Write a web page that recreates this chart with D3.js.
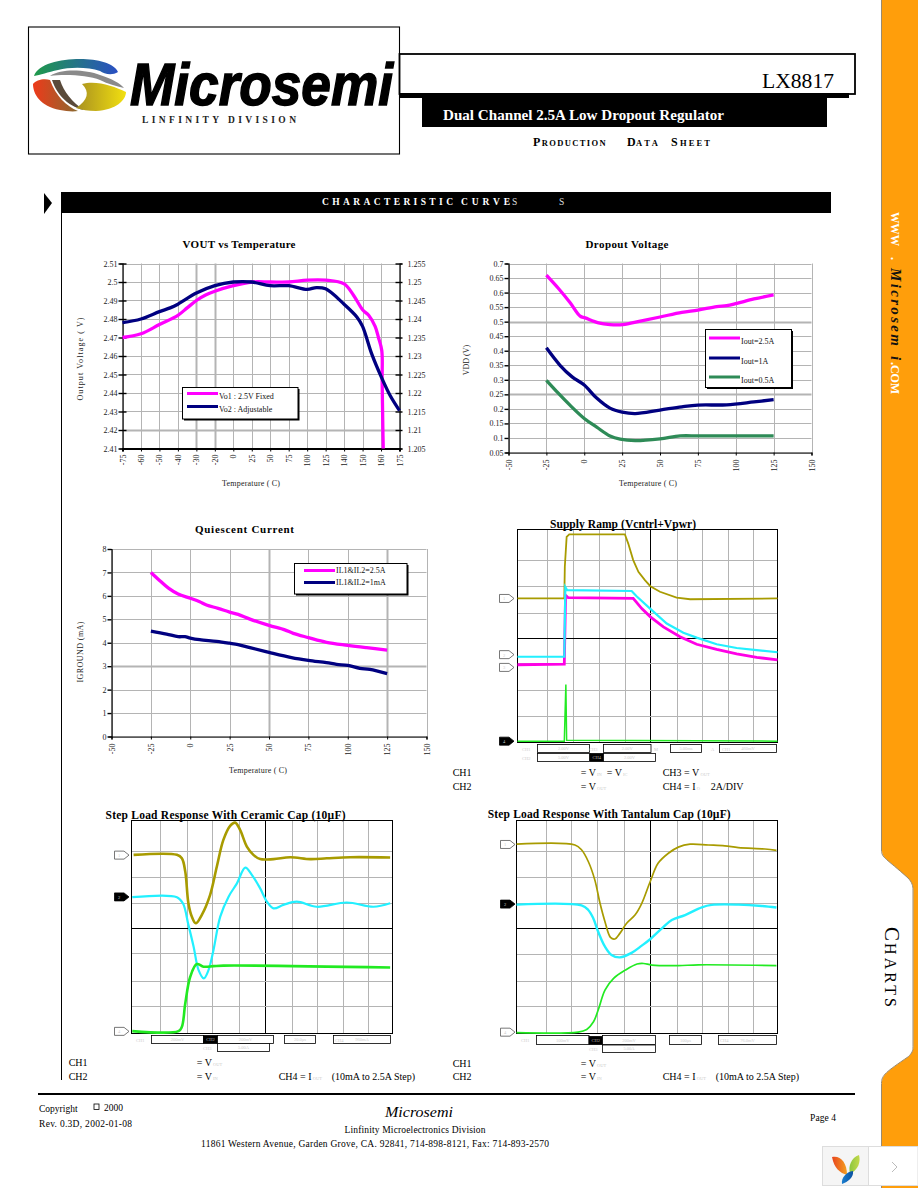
<!DOCTYPE html>
<html><head><meta charset="utf-8">
<script src="https://cdn.jsdelivr.net/npm/d3@7/dist/d3.min.js"></script>
<style>html,body{margin:0;padding:0;background:#fff}svg{display:block}text{font-family:"Liberation Serif",serif}</style>
</head><body><svg id="page" width="918" height="1188"></svg>
<script>
// ---------- chart values ----------
const vtCategories=["-75","-60","-50","-40","-30","-20","0","25","50","75","100","125","140","150","160","175"];
const vtLeftTicks=[2.41,2.42,2.43,2.44,2.45,2.46,2.47,2.48,2.49,2.5,2.51];
const vtRightTicks=[1.205,1.21,1.215,1.22,1.225,1.23,1.235,1.24,1.245,1.25,1.255];
const vtFixedPos=[0,1,2,3,3.5,4,4.5,5,6,7,8,9,10,11,12,12.5,13,13.33,13.68,13.86,14.04,14.06,14.1,14.12];
const vtFixedVal=[2.47,2.472,2.477,2.482,2.486,2.49,2.493,2.495,2.498,2.5,2.5,2.5,2.501,2.501,2.499,2.493,2.485,2.482,2.476,2.47,2.463,2.447,2.42,2.41];
const vtAdjPos=[0,1,2,2.58,3,4,5,6,7,8,9,10,10.5,11,12,12.7,13,13.5,14,14.5,15];
const vtAdjVal=[2.478,2.48,2.484,2.486,2.488,2.494,2.498,2.5,2.5,2.498,2.498,2.496,2.497,2.4963,2.488,2.481,2.476,2.461,2.449,2.4385,2.4305];

const tempTicks=[-50,-25,0,25,50,75,100,125,150];
const dropTicks=[0.05,0.1,0.15,0.2,0.25,0.3,0.35,0.4,0.45,0.5,0.55,0.6,0.65,0.7];
const drop25T=[-25,-17,-9.3,-2.7,0.6,9.4,17,25.5,37,50,64.4,75,87.5,94,100.7,112,125];
const drop25V=[0.66,0.614,0.565,0.519,0.513,0.496,0.49,0.49,0.502,0.516,0.532,0.54,0.552,0.555,0.563,0.578,0.592];
const drop1T=[-25,-16,-8,0,8,17,25,33.6,50,64.4,75,94,112,125];
const drop1V=[0.41,0.35,0.31,0.282,0.238,0.2025,0.189,0.184,0.196,0.207,0.213,0.214,0.224,0.232];
const drop05T=[-25,-17,-9.3,0,8,17,23.7,33.6,50,63.3,75,94,125];
const drop05V=[0.298,0.253,0.212,0.167,0.138,0.107,0.096,0.091,0.097,0.107,0.107,0.107,0.107];

const quiTicks=[0,1,2,3,4,5,6,7,8];
const qui25T=[-25,-19.3,-13.6,-7.7,0,6,10.3,17.7,25,30.4,37.9,50,60,65.4,75,86.5,100,112,125];
const qui25V=[7,6.65,6.32,6.08,5.9,5.75,5.61,5.47,5.31,5.21,5.01,4.74,4.55,4.4,4.22,4.02,3.89,3.79,3.69];
const qui1T=[-25,-15,-7.7,-3.4,0,6,16.7,25,30.4,37.9,50,64.3,75,86.5,92.9,100,107.7,114,125];
const qui1V=[4.5,4.37,4.26,4.26,4.2,4.13,4.06,3.98,3.92,3.79,3.59,3.37,3.25,3.15,3.08,3.03,2.91,2.86,2.68];

// oscilloscope traces: x and y in graticule divisions
const rampGridX=[1.12,2.12,3.12,4.12,5.11,6.12,7.1,8.1,9.07];
const rampGridY=[1.01,1.99,2.99,3.94,4.88,5.88,6.87];
const rampOliveX=[0,1.8,1.82,1.89,1.99,4.13,4.26,4.45,4.65,4.9,5.11,5.48,6.12,6.64,10];
const rampOliveY=[5.41,5.41,6.6,7.72,7.82,7.82,7.47,6.85,6.41,6.1,5.87,5.66,5.44,5.38,5.41];
const rampMagentaX=[0,1.8,1.84,1.85,1.95,4.45,4.78,5.11,5.61,6.25,6.89,7.66,8.43,9.2,10];
const rampMagentaY=[2.92,2.94,5.06,5.53,5.44,5.41,5.03,4.72,4.34,3.97,3.69,3.5,3.33,3.2,3.1];
const rampCyanX=[0,1.8,1.84,1.91,4.39,4.58,5.11,5.74,6.38,6.89,7.66,8.43,9.2,10];
const rampCyanY=[3.22,3.22,5.84,5.72,5.69,5.49,5.02,4.47,4.12,3.94,3.69,3.55,3.47,3.39];
const rampGreenX=[0,1.8,1.86,1.89,10];
const rampGreenY=[0.05,0.05,2.18,0.08,0.05];
const rampMarkers=[5.41,3.3,2.82,0.05];

const cerGridX=[1.11,2.11,3.1,4.1,5.12,6.14,7.09,8.1,9.08];
const cerGridY=[1.02,1.99,3.01,3.95,4.92,5.89,6.87];
const cerOliveX=[0.08,1.74,1.93,2.06,2.18,2.31,2.46,2.69,3.01,3.27,3.52,3.78,3.97,4.16,4.42,4.67,4.93,5.44,6.08,6.85,7.48,8.38,9.91];
const cerOliveY=[6.71,6.71,6.58,6.08,4.89,4.39,4.14,4.45,5.2,6.27,7.27,7.8,7.92,7.65,7.02,6.71,6.55,6.55,6.62,6.55,6.58,6.62,6.61];
const cerCyanX=[0.03,1.74,1.97,2.18,2.38,2.57,2.77,2.95,3.14,3.4,3.72,4.04,4.36,4.61,4.93,5.19,5.44,5.82,6.33,7.1,8.25,9.27,9.91];
const cerCyanY=[5.12,5.12,4.89,4.08,3.26,2.38,2.07,2.38,3.13,4.39,5.14,5.64,6.23,5.96,5.45,4.95,4.7,4.83,4.95,4.76,4.92,4.76,4.89];
const cerGreenX=[0.03,1.8,1.93,2.06,2.25,2.5,2.76,3.14,3.52,9.91];
const cerGreenY=[0.09,0.09,0.25,1.13,2.13,2.61,2.51,2.53,2.55,2.48];
const cerMarkers=[6.7,5.13,0.08];

const tanGridX=[1.14,2.1,3.09,4.13,5.12,6.14,7.12,8.12,9.08];
const tanGridY=[1.02,1.99,2.98,3.95,4.89,5.89,6.87];
const tanOliveX=[0,2.24,2.49,2.75,3,3.2,3.39,3.6,3.77,3.96,4.22,4.54,4.8,5.12,5.43,5.82,6.2,6.65,7.35,7.98,8.5,9.52,9.96];
const tanOliveY=[7.11,7.08,6.9,6.46,5.77,4.89,4.2,3.61,3.55,3.76,4.14,4.45,4.89,5.7,6.4,6.77,7,7.11,7.08,7.05,6.98,6.93,6.88];
const tanCyanX=[0,2.49,2.75,2.94,3.13,3.39,3.64,3.96,4.41,4.8,5.12,5.57,5.95,6.46,7.1,7.48,8.5,9.4,9.96];
const tanCyanY=[4.84,4.81,4.64,4.33,3.82,3.26,2.95,2.86,3.03,3.3,3.54,3.95,4.26,4.45,4.74,4.83,4.84,4.79,4.73];
const tanGreenX=[0,2.36,2.69,2.95,3.13,3.39,3.72,4.17,4.62,4.87,5.19,6.2,6.97,9.96];
const tanGreenY=[0.03,0.05,0.15,0.44,0.88,1.63,2.07,2.38,2.61,2.63,2.57,2.55,2.58,2.55];
const tanMarkers=[7.1,4.86,0.05];

// ---------- helpers ----------
const MAG="#ff00ff",NAVY="#000080",SEA="#2e8b57",GRID="#b4b4b4";
const svg=d3.select("#page");
function T(parent,s,x,y,o={}){
  const t=parent.append("text").attr("x",x).attr("y",y).text(s)
    .attr("font-size",o.size||10).attr("fill",o.fill||"#000");
  if(o.weight)t.attr("font-weight",o.weight);
  if(o.style)t.attr("font-style",o.style);
  if(o.anchor)t.attr("text-anchor",o.anchor);
  if(o.len)t.attr("textLength",o.len);
  if(o.adj)t.attr("lengthAdjust",o.adj);
  if(o.family)t.style("font-family",o.family);
  if(o.rot!=null)t.attr("transform",`rotate(${o.rot} ${x} ${y})`);
  return t;
}
const zip=(a,b)=>a.map((v,i)=>[v,b[i]]);

function lineChart(c){
  const g=svg.append("g");
  const {x0,x1,y0,y1}=c;
  const x=d3.scaleLinear().domain(c.xDomain).range([x0,x1]);
  const y=d3.scaleLinear().domain(c.yDomain).range([y1,y0]);
  // grid
  const grid=g.append("g").attr("stroke",GRID);
  grid.selectAll(".h").data(c.yTicks).join("line").attr("x1",x0).attr("x2",x1)
    .attr("y1",d=>Math.round(y(d))+.5).attr("y2",d=>Math.round(y(d))+.5)
    .attr("stroke-width",d=>(c.thickY||[]).includes(d)?2:1);
  grid.selectAll(".v").data(c.xTicks).join("line").attr("y1",y0).attr("y2",y1)
    .attr("x1",d=>Math.round(x(d))+.5).attr("x2",d=>Math.round(x(d))+.5)
    .attr("stroke-width",d=>(c.thickX||[]).includes(d)?2:1);
  // axes
  const ax=g.append("g").attr("transform",`translate(0,${y1})`)
    .call(d3.axisBottom(x).tickValues(c.xTicks).tickFormat(c.xFormat||String).tickSizeOuter(0).tickSize(c.bottomTick||3));
  ax.select(".domain").attr("stroke","#000").attr("stroke-width",c.bottomW||1.2);
  ax.selectAll("text").attr("transform","rotate(-90)").attr("text-anchor","end")
    .attr("x",-(c.xLabelGap||6)).attr("y",0).attr("dy",".32em").attr("font-size",8).attr("fill","#222")
    .style("font-family",'"Liberation Serif",serif');
  const ay=g.append("g").attr("transform",`translate(${x0},0)`)
    .call(d3.axisLeft(y).tickValues(c.yTicks).tickFormat(String).tickSizeOuter(0).tickSize(3));
  ay.select(".domain").attr("stroke","#000").attr("stroke-width",1.2);
  ay.selectAll("text").attr("x",-5).attr("font-size",8).attr("fill","#222").style("font-family",'"Liberation Serif",serif');
  ay.selectAll("line").attr("stroke-width",1.4).attr("x2",-(c.tickOut||4)).attr("x1",c.tickIn||0);
  if(c.rightTicks){
    const yr=d3.scaleLinear().domain(c.rightDomain).range([y1,y0]);
    const ar=g.append("g").attr("transform",`translate(${x1},0)`)
      .call(d3.axisRight(yr).tickValues(c.rightTicks).tickFormat(String).tickSizeOuter(0).tickSize(3));
    ar.select(".domain").attr("stroke","#000").attr("stroke-width",1.2);
    ar.selectAll("text").attr("x",8).attr("font-size",8).attr("fill","#222").style("font-family",'"Liberation Serif",serif');
    ar.selectAll("line").attr("stroke-width",1.4).attr("x1",-4).attr("x2",3);
  }
  // series
  const ln=d3.line().x(d=>x(d[0])).y(d=>y(d[1])).curve(d3.curveCatmullRom.alpha(.5));
  g.selectAll(".s").data(c.series).join("path").attr("d",d=>ln(zip(d.x,d.y)))
    .attr("fill","none").attr("stroke",d=>d.color).attr("stroke-width",c.lineW||3.3);
  // titles
  T(g,c.title,c.titleX,c.titleY,{size:11,weight:"bold",anchor:"middle",len:c.titleLen});
  T(g,c.xTitle,c.xTitleX,c.xTitleY,{size:8,anchor:"middle",fill:"#222",len:58});
  T(g,c.yTitle,c.yTitleX,c.yTitleY,{size:8,anchor:"middle",rot:-90,fill:"#222",len:c.yTitleLen});
  // legend
  const L=c.legend;
  g.append("rect").attr("x",L.x0+1.5).attr("y",L.y0+1.5).attr("width",L.x1-L.x0).attr("height",L.y1-L.y0).attr("fill","#000");
  g.append("rect").attr("x",L.x0).attr("y",L.y0).attr("width",L.x1-L.x0).attr("height",L.y1-L.y0).attr("fill","#fff").attr("stroke","#000").attr("stroke-width",1);
  c.series.forEach((s,i)=>{
    g.append("line").attr("x1",L.kx0).attr("x2",L.kx1).attr("y1",L.ky[i]).attr("y2",L.ky[i]).attr("stroke",s.color).attr("stroke-width",3);
    T(g,s.name,L.kx1+1,L.ky[i]+L.dy,{size:8,fill:"#111"});
  });
}

function scope(c){
  const g=svg.append("g");
  const {x0,x1,y0,y1}=c;
  const x=d3.scaleLinear().domain([0,10]).range([x0,x1]);
  const y=d3.scaleLinear().domain([0,8]).range([y1,y0]);
  g.selectAll(".v").data(c.gridX).join("line").attr("y1",y0).attr("y2",y1)
    .attr("x1",d=>Math.round(x(d))+.5).attr("x2",d=>Math.round(x(d))+.5)
    .attr("stroke",(d,i)=>i===4?"#000":GRID);
  g.selectAll(".h").data(c.gridY).join("line").attr("x1",x0).attr("x2",x1)
    .attr("y1",d=>Math.round(y(d))+.5).attr("y2",d=>Math.round(y(d))+.5)
    .attr("stroke",(d,i)=>i===3?"#000":GRID);
  g.append("rect").attr("x",x0).attr("y",y0).attr("width",x1-x0).attr("height",y1-y0).attr("fill","none").attr("stroke","#000").attr("stroke-width",1);
  const ln=d3.line().x(d=>x(d[0])).y(d=>y(d[1])).curve(c.curve||d3.curveLinear);
  g.selectAll(".s").data(c.series).join("path").attr("d",d=>ln(zip(d.x,d.y)))
    .attr("fill","none").attr("stroke",d=>d.color).attr("stroke-width",d=>d.w);
  // channel markers
  c.markers.forEach((m,i)=>{
    const yy=y(m),b=c.markerX,dark=i===c.darkMarker;
    g.append("path").attr("d",`M${b-14.5},${yy-4}H${b-5}L${b},${yy}L${b-5},${yy+4}H${b-14.5}Z`)
      .attr("fill",dark?"#000":"#fff").attr("stroke",dark?"#000":"#555").attr("stroke-width",.8);
    T(g,c.markerLabels[i],b-10,yy+2,{size:4.5,fill:"#ccc",anchor:"middle"});
  });
  // readout boxes below the screen
  c.boxes.forEach(b=>{
    g.append("rect").attr("x",b[0]).attr("y",b[1]).attr("width",b[2]-b[0]).attr("height",b[3]-b[1])
      .attr("fill",b[5]?"#000":"#fff").attr("stroke","#000").attr("stroke-width",.8);
    if(b[4])T(g,b[4],(b[0]+b[2])/2,b[3]-2.5,{size:4.5,fill:b[5]?"#bbb":"#ccc",anchor:"middle"});
  });
  c.faint.forEach(f=>T(g,f[0],f[1],f[2],{size:4.5,fill:"#ccc"}));
  T(g,c.title,c.titleX,c.titleY,{size:11.5,weight:"bold",len:c.titleLen});
  c.notes.forEach(n=>{
    const t=T(g,n[0],n[1],n[2],{size:10});
    if(n[3])t.append("tspan").attr("font-size",4.5).attr("fill","#ccc").text(" "+n[3]);
  });
}

// ---------- page furniture ----------
const defs=svg.append("defs");
function grad(id,a,b){const l=defs.append("linearGradient").attr("id",id);l.append("stop").attr("offset","0").attr("stop-color",a);l.append("stop").attr("offset","1").attr("stop-color",b);}
grad("gTop","#1f9a4a","#2a4fc4");grad("gYel","#a89020","#f2e010");grad("gRed","#ee3a1a","#8a6a30");grad("gLeafO","#e8451e","#f4a020");grad("gLeafG","#8cc63f","#c4d94a");grad("gLeafB","#1a7fd0","#0a50a0");

// side tab
const tabFill="M882,0V850C882,858 886,858 908,878C912,882 913.3,886 913.3,890V1046.7C913.3,1051 912,1053 908.3,1056.7C886,1072 882,1075 882,1083.3V1188H918V0Z";
const tabEdge="M881.5,0V850C881.5,858 886,858 908,878C912,882 913,886 913,890V1046.7C913,1051 912,1053 908.3,1056.7C886,1072 881.5,1075 881.5,1083.3V1188";
svg.append("path").attr("d",tabFill).attr("fill","#ff9e0b");
svg.append("path").attr("d",tabEdge).attr("fill","none").attr("stroke","#9a8a70").attr("stroke-width",1);

const wt=(s,y,o)=>T(svg,s,891,y,Object.assign({rot:90},o));
wt("WWW",212,{size:12,weight:"bold",fill:"#fff",len:34,adj:"spacingAndGlyphs"});
wt(".",257,{size:12,weight:"bold",fill:"#fff"});
wt("Microsem",268,{size:15,weight:"bold",style:"italic",fill:"#111",len:78,adj:"spacing"});
wt("i",356,{size:15,weight:"bold",style:"italic",fill:"#111"});
wt(".COM",362,{size:12,fill:"#fff",weight:"bold",len:32,adj:"spacing"});

T(svg,"C",885,927,{size:21,rot:90});
T(svg,"HARTS",885,943,{size:16,rot:90,len:64,adj:"spacing"});

// header
svg.append("rect").attr("x",28.5).attr("y",27).attr("width",371).attr("height",127).attr("fill","#fff").attr("stroke","#000").attr("stroke-width",1.1);
svg.append("rect").attr("x",399.5).attr("y",54).attr("width",455.5).attr("height",40).attr("fill","none").attr("stroke","#000").attr("stroke-width",1.8);
svg.append("rect").attr("x",399).attr("y",93).attr("width",450).attr("height",5).attr("fill","#000");
svg.append("rect").attr("x",422).attr("y",93).attr("width",405).attr("height",34).attr("fill","#000");
T(svg,"LX8817",762,88,{size:21,len:72,adj:"spacingAndGlyphs"});
T(svg,"Dual Channel 2.5A Low Dropout Regulator",443,120,{size:14,weight:"bold",fill:"#fff",len:281,adj:"spacingAndGlyphs"});
T(svg,"P",533,146,{size:12,weight:"bold"});
T(svg,"RODUCTION",541.7,146,{size:8.5,weight:"bold",len:64,adj:"spacing"});
T(svg,"D",627,146,{size:12,weight:"bold"});
T(svg,"ATA",636,146,{size:8.5,weight:"bold",len:22,adj:"spacing"});
T(svg,"S",671,146,{size:12,weight:"bold"});
T(svg,"HEET",680,146,{size:8.5,weight:"bold",len:30,adj:"spacing"});

// logo
const lg=svg.append("g");
lg.append("path").attr("d","M33,84C33,94 40,106 60,110C66,111 72,112 78,111C66,106 56,96 50,80C44,78 36,80 33,84Z").attr("fill","url(#gRed)");
lg.append("path").attr("d","M34,76C38,64 60,59 80,59C98,59 114,63 118,72C112,76 104,74 100,71C88,67 70,67 58,70C48,72 40,75 34,76Z").attr("fill","url(#gTop)");
lg.append("path").attr("d","M50,76C62,68 86,70 100,75C112,79 120,83 124,88C116,86 108,84 100,80C88,75 64,74 50,76Z").attr("fill","#8a8a8a");
lg.append("path").attr("d","M52,80C56,92 66,106 84,110C72,102 64,92 60,80Z").attr("fill","#5a4a3a");
lg.append("path").attr("d","M82,84C96,80 114,86 126,92C126,100 116,110 96,111C88,111 82,110 76,108C88,100 90,92 82,84Z").attr("fill","url(#gYel)");
T(svg,"Microsemi",130,105,{size:59,weight:"bold",style:"italic",len:263,adj:"spacingAndGlyphs",family:'"Liberation Sans",sans-serif'}).attr("stroke","#000").attr("stroke-width",1.5);
T(svg,"LINFINITY DIVISION",142,123,{size:9.5,weight:"bold",len:154,adj:"spacing",fill:"#222"});

// section bar
svg.append("rect").attr("x",61).attr("y",192).attr("width",770).attr("height",21).attr("fill","#000");
svg.append("path").attr("d","M44,193L52,203L44,214Z").attr("fill","#000");
svg.append("line").attr("x1",61.5).attr("x2",61.5).attr("y1",212).attr("y2",1080).attr("stroke","#000");
T(svg,"CHARACTERISTIC",322,205,{size:9.5,weight:"bold",fill:"#fff",len:131,adj:"spacing"});
T(svg,"CURVE",461,205,{size:9.5,weight:"bold",fill:"#fff",len:49,adj:"spacing"});
T(svg,"S",512,205,{size:9.5,fill:"#ddd"});
T(svg,"S",559,205,{size:9.5,fill:"#ddd"});

// footer
svg.append("rect").attr("x",38).attr("y",1093).attr("width",817).attr("height",2).attr("fill","#000");
T(svg,"Copyright",39,1112,{size:9.5});
svg.append("rect").attr("x",94).attr("y",1104).attr("width",5).attr("height",5.5).attr("fill","none").attr("stroke","#000").attr("stroke-width",.8);
T(svg,"2000",104,1111,{size:9.5});
T(svg,"Rev. 0.3D, 2002-01-08",39,1127,{size:9.5,len:93,adj:"spacing"});
T(svg,"Microsemi",419,1117,{size:14,style:"italic",anchor:"middle",len:68,adj:"spacingAndGlyphs"});
T(svg,"Linfinity Microelectronics Division",415,1133,{size:9.5,anchor:"middle",len:141,adj:"spacing"});
T(svg,"11861 Western Avenue, Garden Grove, CA. 92841, 714-898-8121, Fax: 714-893-2570",375,1147,{size:9.5,anchor:"middle",len:348,adj:"spacing"});
T(svg,"Page 4",810,1121,{size:9.5,len:26,adj:"spacing"});

// corner widget
svg.append("rect").attr("x",822.5).attr("y",1146.5).attr("width",46).attr("height",39).attr("fill","#f5f5f5").attr("stroke","#ddd");
svg.append("rect").attr("x",868.5).attr("y",1146.5).attr("width",49.5).attr("height",39).attr("fill","#fff").attr("stroke","#ddd");
svg.append("path").attr("d","M832,1157C840,1155 847,1162 847,1175C840,1173 834,1168 832,1157Z").attr("fill","url(#gLeafO)");
svg.append("path").attr("d","M859,1155C861,1162 858,1170 850,1174C848,1166 851,1158 859,1155Z").attr("fill","url(#gLeafG)");
svg.append("path").attr("d","M853,1171C854,1177 848,1182 842,1184C841,1178 846,1172 853,1171Z").attr("fill","url(#gLeafB)");
svg.append("path").attr("d","M892,1162L897,1167L892,1172").attr("fill","none").attr("stroke","#bbb");

// ---------- charts ----------
lineChart({x0:122.5,x1:399.5,y0:263.5,y1:448.5,xDomain:[0,15],yDomain:[2.41,2.51],
  xTicks:d3.range(16),xFormat:i=>vtCategories[i],yTicks:vtLeftTicks,thickX:[4,5],thickY:[2.42],
  rightTicks:vtRightTicks,rightDomain:[1.205,1.255],bottomW:2,tickIn:4,bottomTick:3,
  title:"VOUT vs Temperature",titleX:239,titleY:248,titleLen:113,
  xTitle:"Temperature ( C)",xTitleX:251,xTitleY:486,yTitle:"Output Voltage ( V)",yTitleX:83,yTitleY:359,yTitleLen:83,
  series:[{name:"Vo1 : 2.5V Fixed",color:MAG,x:vtFixedPos,y:vtFixedVal},{name:"Vo2 : Adjustable",color:NAVY,x:vtAdjPos,y:vtAdjVal}],
  legend:{x0:182.5,x1:298,y0:387.5,y1:419,kx0:187,kx1:218,ky:[393.5,406.5],dy:5}});

lineChart({x0:508.5,x1:811.5,y0:263.5,y1:452.5,xDomain:[-50,150],yDomain:[0.05,0.7],
  xTicks:tempTicks,yTicks:dropTicks,thickY:[0.5,0.25],xLabelGap:7,
  title:"Dropout Voltage",titleX:627,titleY:248,titleLen:83,
  xTitle:"Temperature ( C)",xTitleX:648,xTitleY:486,yTitle:"VDD (V)",yTitleX:469,yTitleY:360,
  series:[{name:"Iout=2.5A",color:MAG,x:drop25T,y:drop25V},{name:"Iout=1A",color:NAVY,x:drop1T,y:drop1V},{name:"Iout=0.5A",color:SEA,x:drop05T,y:drop05V}],
  legend:{x0:705.5,x1:791.5,y0:329.5,y1:387.5,kx0:709,kx1:740,ky:[338,358,377],dy:6}});

lineChart({x0:111.5,x1:426.5,y0:549,y1:736.5,xDomain:[-50,150],yDomain:[0,8],
  xTicks:tempTicks,yTicks:quiTicks,thickY:[3],thickX:[50,125],xLabelGap:7,
  title:"Quiescent Current",titleX:244.5,titleY:533,titleLen:99,
  xTitle:"Temperature ( C)",xTitleX:258,xTitleY:773,yTitle:"IGROUND (mA)",yTitleX:83,yTitleY:652,yTitleLen:61,
  series:[{name:"IL1&IL2=2.5A",color:MAG,x:qui25T,y:qui25V},{name:"IL1&IL2=1mA",color:NAVY,x:qui1T,y:qui1V}],
  legend:{x0:294.5,x1:407,y0:563.5,y1:594,kx0:304,kx1:335,ky:[570.5,582.5],dy:2.5}});

const OL="#a89b00",CY="#22f0ff",MG="#ff00e6",GR="#22ea22";
scope({x0:517.5,x1:777.5,y0:529.5,y1:742.5,gridX:rampGridX,gridY:rampGridY,markerX:514,darkMarker:3,markerLabels:["1","2","3","4"],markers:rampMarkers,
  title:"Supply Ramp (Vcntrl+Vpwr)",titleX:550,titleY:528,titleLen:146,
  series:[{color:OL,w:1.8,x:rampOliveX,y:rampOliveY},{color:MG,w:2.8,x:rampMagentaX,y:rampMagentaY},{color:CY,w:2.2,x:rampCyanX,y:rampCyanY},{color:GR,w:1.5,x:rampGreenX,y:rampGreenY}],
  boxes:[[537.5,744.5,589.5,752.5,"2.00V"],[537.5,753.5,589.5,761.5,"5.00V"],[590,753.5,603.5,761.5,"CH4",1],[603.5,744.5,651,752.5,"2.00V"],[603.5,753.5,655.5,761.5,"2.00V"],[670.5,744.5,701.5,752.5,"5.00ms"],[719.5,744.5,776.5,752.5,"460mV"]],
  faint:[["CH1",522,751],["CH2",522,760],["CH3",589,751],["M",654,751],["A",711,751],["CH1",722,751]],
  notes:[["CH1",452.7,776],["= V",580.7,776,"IN"],["= V",606.7,776,"IC"],["CH3 = V",662.7,776,"OUT"],["CH2",452.7,790],["= V",580.7,790,"OUT"],["CH4 = I",662.7,790,"O"],["2A/DIV",710.7,790]]});

scope({x0:131.5,x1:392.5,y0:820.5,y1:1033.5,gridX:cerGridX,gridY:cerGridY,markerX:129,darkMarker:1,markerLabels:["1","2","4"],markers:cerMarkers,curve:d3.curveCatmullRom.alpha(.5),
  title:"Step Load Response With Ceramic Cap (10µF)",titleX:105.5,titleY:819,titleLen:240,
  series:[{color:OL,w:2.6,x:cerOliveX,y:cerOliveY},{color:CY,w:2.2,x:cerCyanX,y:cerCyanY},{color:GR,w:2.6,x:cerGreenX,y:cerGreenY}],
  boxes:[[151.5,1035.5,203.5,1043.5,"200mV"],[203.5,1035.5,217.5,1043.5,"CH2",1],[217.5,1035.5,273.5,1043.5,"200mV"],[217.5,1043.5,269.5,1051.5,"5.00A"],[284.5,1035.5,315.5,1043.5,"20.0µs"],[333.5,1035.5,390.5,1043.5,"960mA"]],
  faint:[["CH1",136,1042],["CH3",203,1050],["CH4",335,1042]],
  notes:[["CH1",68.7,1066],["= V",196.7,1066,"OUT"],["CH2",68.7,1080],["= V",196.7,1080,"IN"],["CH4 = I",278.7,1080,"OUT"],["(10mA to 2.5A Step)",331.7,1080]]});

scope({x0:516.5,x1:777.5,y0:820.5,y1:1033.5,gridX:tanGridX,gridY:tanGridY,markerX:515,darkMarker:1,markerLabels:["1","2","4"],markers:tanMarkers,curve:d3.curveCatmullRom.alpha(.5),
  title:"Step Load Response With Tantalum Cap (10µF)",titleX:487.7,titleY:818,titleLen:243,
  series:[{color:OL,w:1.7,x:tanOliveX,y:tanOliveY},{color:CY,w:2.4,x:tanCyanX,y:tanCyanY},{color:GR,w:1.7,x:tanGreenX,y:tanGreenY}],
  boxes:[[536.5,1035.5,589,1044.5,"100mV"],[589,1036.5,602.5,1044.5,"CH2",1],[602.5,1035.5,655.5,1044.5,"200mV"],[602.5,1045,655.5,1052.5,"5.00A"],[669.5,1035.5,701.5,1044.5,"100µs"],[718.5,1035.5,776.5,1044.5,"76.0mV"]],
  faint:[["CH1",521,1042],["CH3",589,1051],["CH4",720,1042]],
  notes:[["CH1",452.7,1067],["= V",580.7,1067,"OUT"],["CH2",452.7,1080],["= V",580.7,1080,"IN"],["CH4 = I",662.7,1080,"OUT"],["(10mA to 2.5A Step)",715.7,1080]]});
</script></body></html>
